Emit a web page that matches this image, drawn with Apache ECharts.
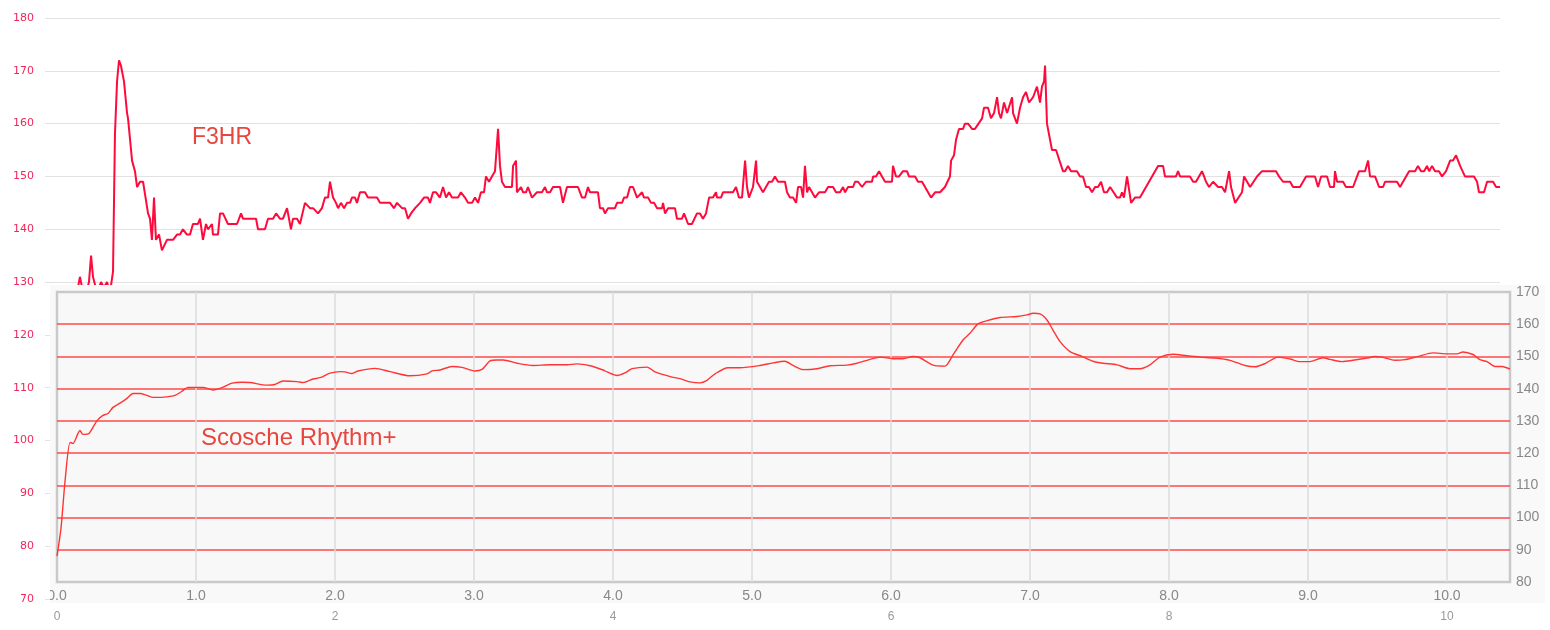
<!DOCTYPE html>
<html><head><meta charset="utf-8">
<script src="https://cdn.jsdelivr.net/npm/echarts@6/dist/echarts.min.js"></script>
<style>
html,body{margin:0;padding:0;background:#fff;overflow:hidden;}
#a{position:absolute;left:0;top:0;width:1550px;height:630px;}
#b{position:absolute;left:50px;top:285px;width:1495px;height:318px;}
</style></head><body>
<div id="a"></div><div id="b"></div>
<script>
// ---- F3HR (top chart) ----
const f3hrDist = [
0.050,0.108,0.151,0.165,0.180,0.209,0.230,0.245,0.259,0.273,0.288,0.317,0.338,0.360,0.381,0.403,0.417,0.432,0.446,0.460,
0.482,0.504,0.511,0.540,0.561,0.576,0.597,0.619,0.655,0.669,0.683,0.698,0.712,0.734,0.755,0.791,0.835,0.863,0.885,0.906,
0.935,0.957,0.978,1.014,1.029,1.050,1.072,1.086,1.115,1.122,1.158,1.173,1.194,1.230,1.295,1.324,1.338,1.432,1.446,1.496,
1.518,1.554,1.576,1.604,1.626,1.655,1.683,1.698,1.727,1.748,
1.784,1.820,1.842,1.878,1.906,1.928,1.950,1.964,1.986,2.007,2.022,2.043,2.065,2.086,2.108,2.122,2.144,2.158,2.180,2.216,
2.237,2.266,2.302,2.324,2.360,2.396,2.424,2.446,2.482,2.504,2.525,2.547,2.576,2.612,2.640,2.669,2.683,2.705,2.727,2.755,
2.777,2.799,2.820,2.842,2.885,2.906,2.935,2.957,2.986,3.007,3.029,3.050,3.072,3.086,3.108,3.129,3.151,3.173,3.187,3.201,
3.223,3.273,3.281,3.302,3.309,3.338,3.353,3.374,3.388,3.417,3.424,3.453,3.489,3.511,3.525,3.547,3.568,3.619,3.640,3.669,
3.748,3.777,3.799,3.820,3.835,3.892,3.906,3.928,3.942,3.964,4.014,4.029,4.065,4.079,4.101,4.122,4.144,4.173,4.187,4.209,
4.223,4.252,4.273,4.295,4.317,4.353,4.360,4.374,4.396,4.446,4.460,4.496,4.511,4.540,4.568,4.604,4.626,
4.647,4.669,4.691,4.719,4.741,4.748,4.777,4.791,4.863,4.885,4.906,4.928,4.950,4.964,4.978,5.007,5.029,5.036,5.079,5.122,
5.144,5.165,5.187,5.237,5.252,5.273,5.295,5.317,5.331,5.353,5.367,5.381,5.396,5.410,5.432,5.453,5.482,5.525,5.547,5.583,
5.604,5.633,5.655,5.669,5.691,5.727,5.741,5.763,5.791,5.820,5.863,5.871,5.892,5.914,5.935,5.957,6.007,6.014,6.036,6.058,
6.086,6.115,6.129,6.173,6.194,6.223,6.288,6.317,6.353,6.388,6.424,6.432,6.453,6.468,6.489,6.518,6.532,6.554,6.583,6.604,
6.655,6.669,6.698,6.719,6.741,6.763,6.777,6.791,6.813,6.835,6.849,6.871,6.878,6.906,6.928,6.950,6.971,6.993,7.022,7.050,
7.072,7.086,7.101,7.108,7.122,7.158,7.187,7.237,7.252,7.273,7.295,7.338,7.360,7.381,7.403,7.424,7.446,7.468,7.489,7.511,
7.532,7.554,7.576,7.626,7.647,7.662,7.676,7.698,7.712,7.727,7.755,7.791,7.921,7.957,7.971,8.050,8.065,8.079,8.151,8.173,
8.194,8.237,8.252,8.266,8.288,8.317,8.331,8.353,8.381,8.403,8.417,8.432,8.446,8.475,8.525,8.540,8.583,8.633,8.669,8.770,
8.791,8.820,8.871,8.892,8.942,
8.986,9.050,9.072,9.094,9.137,9.158,9.187,9.194,9.209,9.252,9.273,9.324,9.367,9.410,9.432,9.446,9.482,9.511,9.540,9.554,
9.640,9.662,9.727,9.770,9.791,9.813,9.835,9.856,9.871,9.892,9.914,9.942,9.964,9.993,10.022,10.043,10.065,10.094,10.129,10.194,
10.216,10.230,10.266,10.288,10.331,10.353,10.381];
const f3hrHR = [
125,128,129,131,129,128,130,135,131,131,128,130,129,130,128,132,158,168,172,171,
168,162,161,153,151,148,149,149,143,142,138,146,138,139,136,138,138,139,139,140,
139,139,141,141,142,138,141,140,141,139,139,143,143,141,141,143,142,142,140,140,
142,142,143,142,142,144,140,142,142,141,
145,144,144,143,144,146,146,149,146,145,144,145,144,145,145,146,146,145,147,147,
146,146,146,145,145,145,144,145,144,144,142,143,144,145,146,146,145,147,147,146,
148,146,147,146,146,147,146,145,145,146,145,147,147,150,149,150,151,159,152,149,
148,148,152,153,147,148,147,147,148,146,146,147,147,148,147,147,148,148,145,148,
148,146,146,148,147,147,144,144,143,144,144,145,145,146,146,148,148,146,146,147,
146,146,145,145,144,144,145,143,144,144,142,142,143,141,141,143,143,
142,143,146,146,147,146,146,147,147,148,146,146,153,148,146,148,153,149,147,149,
149,150,149,149,147,146,146,145,148,148,146,152,147,148,147,146,147,147,148,148,
147,147,148,147,148,148,149,149,148,149,149,150,150,151,150,149,149,152,150,150,
151,151,150,150,149,149,146,147,147,148,150,153,154,157,159,159,160,160,159,159,
161,163,163,161,162,165,162,161,164,162,162,165,162,160,163,165,166,164,165,167,
164,167,168,171,160,155,155,151,151,152,151,151,150,150,148,148,147,148,148,149,
147,147,148,146,146,147,146,150,150,145,146,146,152,152,150,150,151,150,150,149,
149,151,150,149,148,149,149,148,148,147,147,151,148,145,147,150,148,150,151,151,
150,149,149,148,148,
150,150,148,150,150,148,148,151,149,149,148,148,151,151,153,150,150,148,148,149,
149,148,151,151,152,151,151,152,151,152,151,151,150,151,153,153,154,152,150,150,
149,147,147,149,149,148,148];

// ---- Scosche Rhythm+ (overlay chart) ----
const scoscheDist = [
0,0.029,0.058,0.094,0.115,0.165,0.187,0.230,0.288,0.331,
0.367,0.403,0.453,0.504,0.547,0.597,0.647,0.691,0.741,0.813,
0.849,0.899,0.942,1.050,1.122,1.187,1.259,1.331,1.388,1.511,
1.568,1.626,1.727,1.770,1.842,1.892,1.964,2.036,2.072,2.122,
2.165,2.288,2.396,2.540,2.662,2.698,2.755,2.842,2.914,3.007,
3.058,3.115,3.165,3.209,3.309,3.424,3.547,3.669,3.741,3.835,
3.928,3.957,4.029,4.086,4.137,4.245,4.302,4.424,4.482,4.554,
4.626,4.676,4.734,4.827,4.914,5.058,5.151,5.237,5.295,5.367,
5.468,5.561,5.683,5.755,5.849,5.921,6.014,6.086,6.158,6.209,
6.302,6.388,6.446,6.518,6.568,6.626,6.691,6.784,6.906,6.978,
7.022,7.072,7.122,7.165,7.216,7.288,7.374,7.453,7.525,7.626,
7.719,7.791,7.863,7.935,8.029,8.129,8.223,8.331,8.439,8.547,
8.619,8.691,8.784,8.871,8.942,9.014,9.108,9.158,9.245,9.324,
9.424,9.482,9.532,9.626,9.698,9.791,9.899,10.000,10.072,10.115,
10.187,10.237,10.288,10.345,10.396,10.453];
const scoscheHR = [
88,96.8,111.4,123.3,123,127,125.8,126.1,130.1,131.7,
132.3,134.2,135.5,137,138.5,138.5,137.9,137.3,137.3,137.6,
137.9,139.2,140.4,140.4,139.6,140.3,141.7,142,141.9,141.1,
141.3,142.4,142.2,141.9,143,143.4,144.8,145.3,145.2,144.7,
145.5,146.3,145.3,144,144.6,145.5,145.8,146.9,146.6,145.5,
146,148.6,148.9,148.9,147.9,147.2,147.4,147.4,147.7,147.1,
145.8,145.2,144.1,144.9,146.2,146.7,145.2,143.6,143.1,142.1,
141.8,142.6,144.6,146.5,146.5,147.2,148,148.5,147.2,145.9,
146.2,147.1,147.3,147.9,149.1,149.8,149.3,149.3,150,149.6,
147.3,147,150.5,155.1,157.2,160.1,161.1,162.1,162.4,162.9,
163.4,163.2,161.3,158.2,154.6,151.5,150,148.5,147.9,147.4,
146.2,146.2,147.4,149.8,150.7,150.2,149.8,149.5,148.8,147.2,
146.8,147.8,149.8,149.2,148.4,148.4,149.6,149.1,148.4,148.8,
149.5,150,149.8,148.8,149,150,151.1,150.8,150.8,151.4,
150.6,149,148.4,146.9,146.9,146.1];

// ---- axes / ticks ----
const topXLabels = [0, 2, 4, 6, 8, 10];
const topXRange = [-0.0863, 10.381];
const topYRange = [70, 180], topYStep = 10;
const ovXRange = [0, 10.453], ovXStep = 1;
const ovYRange = [80, 170], ovYStep = 10;
const topTitle = 'F3HR';
const ovTitle = 'Scosche Rhythm+';

const zip = (xs, ys) => xs.map((x, i) => [x, ys[i]]);

const chartA = echarts.init(document.getElementById('a'), null, {renderer: 'canvas'});
chartA.setOption({
  animation: false,
  backgroundColor: '#ffffff',
  grid: {left: 45, right: 50, top: 18, bottom: 31, containLabel: false, outerBoundsMode: 'none'},
  xAxis: {
    type: 'value', min: topXRange[0], max: topXRange[1],
    axisLine: {show: false}, axisTick: {show: false}, splitLine: {show: false},
    axisLabel: {customValues: topXLabels, color: '#999999', fontSize: 12, margin: 12,
      fontFamily: 'Liberation Sans, Arial, sans-serif', formatter: v => String(Math.round(v))}
  },
  yAxis: {
    type: 'value', min: topYRange[0], max: topYRange[1], interval: topYStep,
    axisLine: {show: false}, axisTick: {show: false},
    axisLabel: {color: '#f0285a', fontSize: 11, margin: 11, fontFamily: 'DejaVu Sans, sans-serif'},
    splitLine: {show: true, lineStyle: {color: '#e2e2e2', width: 1}}
  },
  graphic: [{
    type: 'text', left: 192, top: 126, silent: true,
    style: {text: topTitle, fill: '#e8453c', font: '23px "Liberation Sans", Arial, sans-serif'}
  }],
  series: [{
    type: 'line', data: zip(f3hrDist, f3hrHR), showSymbol: false, smooth: false,
    lineStyle: {color: '#ff0a3c', width: 2}, itemStyle: {color: '#ff0a3c'}
  }]
});

const chartB = echarts.init(document.getElementById('b'), null, {renderer: 'canvas'});
chartB.setOption({
  animation: false,
  backgroundColor: '#f9f9f9',
  grid: {left: 7, right: 35, top: 7, bottom: 21, show: true, outerBoundsMode: 'none',
    backgroundColor: '#f8f8f8', borderColor: '#c9c9c9', borderWidth: 2.5, containLabel: false},
  xAxis: {
    type: 'value', min: ovXRange[0], max: ovXRange[1], interval: ovXStep,
    axisLine: {show: false}, axisTick: {show: false},
    axisLabel: {color: '#888888', fontSize: 14, margin: 7, showMaxLabel: false,
      fontFamily: 'Liberation Sans, Arial, sans-serif', formatter: v => v.toFixed(1)},
    splitLine: {show: true, showMinLine: false, showMaxLine: false,
      lineStyle: {color: '#dcdcdc', width: 1.5}}
  },
  yAxis: {
    type: 'value', position: 'right', min: ovYRange[0], max: ovYRange[1], interval: ovYStep,
    axisLine: {show: false}, axisTick: {show: false},
    axisLabel: {color: '#888888', fontSize: 14, margin: 6, fontFamily: 'Liberation Sans, Arial, sans-serif'},
    splitLine: {show: true, showMinLine: false, showMaxLine: false,
      lineStyle: {color: '#ff4a4a', width: 1.5}}
  },
  graphic: [{
    type: 'text', left: 151, top: 141, silent: true, z: 100,
    style: {text: ovTitle, fill: '#e8453c', font: '24px "Liberation Sans", Arial, sans-serif'}
  }],
  series: [{
    type: 'line', data: zip(scoscheDist, scoscheHR), showSymbol: false, smooth: 0.25,
    lineStyle: {color: '#ff3535', width: 1.4}, itemStyle: {color: '#ff3535'}
  }]
});
</script>
</body></html>
